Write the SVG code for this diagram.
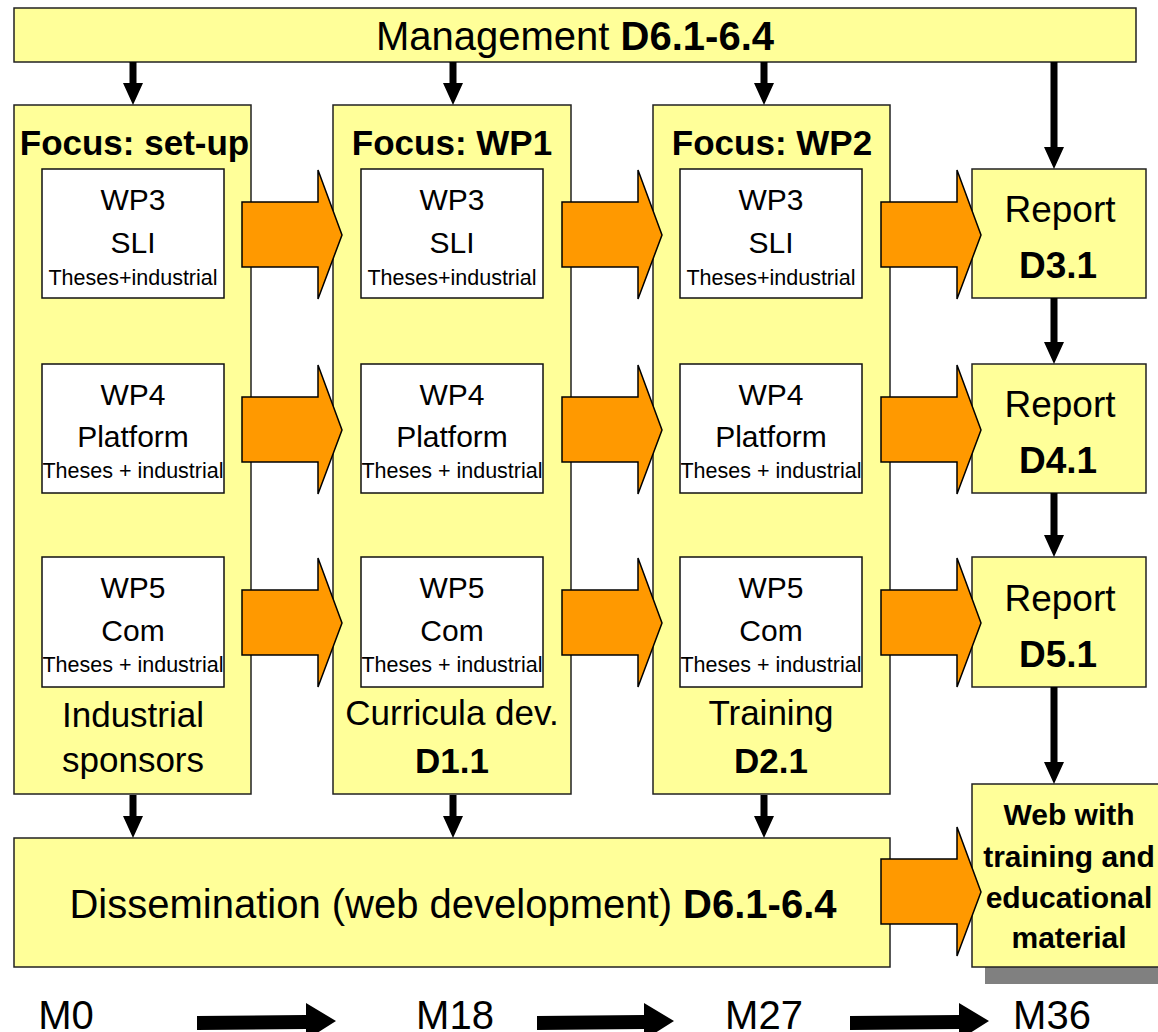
<svg xmlns="http://www.w3.org/2000/svg" width="1158" height="1032" viewBox="0 0 1158 1032">
<style>
.y{fill:#FFFF99;stroke:#222;stroke-width:1.5}
.w{fill:#FFFFFF;stroke:#111;stroke-width:1.5}
.o{fill:#FF9900;stroke:#000;stroke-width:1.5;stroke-linejoin:miter}
.k{fill:#000}
text{font-family:"Liberation Sans",Arial,sans-serif;fill:#000;text-anchor:middle}
.b{font-weight:bold}
.t30{font-size:30px}
.t21{font-size:21.5px}
.t35{font-size:35px}
.t37{font-size:37px}
.t40{font-size:40px}
</style>
<defs>
<polygon id="orange" class="o" points="0,33 76,33 76,1 100,66 76,130 76,98 0,98"/>
<polygon id="down43" class="k" points="-3.5,0 3.5,0 3.5,21 10,21 0,43 -10,21 -3.5,21"/>
</defs>

<g id="management">
<rect class="y" x="14" y="8" width="1122" height="54"/>
<text class="t40" x="575" y="50">Management <tspan class="b">D6.1-6.4</tspan></text>
</g>

<g id="col-setup">
<rect class="y" x="14" y="105" width="237" height="689"/>
<text class="b t35" x="134.5" y="155">Focus: set-up</text>
<text class="t35" x="133" y="727">Industrial</text>
<text class="t35" x="133" y="772">sponsors</text>
</g>
<g id="col-wp1">
<rect class="y" x="333" y="105" width="238" height="689"/>
<text class="b t35" x="452" y="155">Focus: WP1</text>
<text class="t35" x="452" y="725">Curricula dev.</text>
<text class="b t35" x="452" y="773">D1.1</text>
</g>
<g id="col-wp2">
<rect class="y" x="653" y="105" width="237" height="689"/>
<text class="b t35" x="772" y="155">Focus: WP2</text>
<text class="t35" x="771" y="725">Training</text>
<text class="b t35" x="771" y="773">D2.1</text>
</g>

<g id="c1-wp3"><rect class="w" x="42" y="169" width="182" height="129"/>
<text class="t30" x="133" y="210">WP3</text><text class="t30" x="133" y="253">SLI</text><text class="t21" x="133" y="285">Theses+industrial</text></g>
<g id="c1-wp4"><rect class="w" x="42" y="364" width="182" height="129"/>
<text class="t30" x="133" y="405">WP4</text><text class="t30" x="133" y="447">Platform</text><text class="t21" x="133" y="478">Theses + industrial</text></g>
<g id="c1-wp5"><rect class="w" x="42" y="557" width="182" height="130"/>
<text class="t30" x="133" y="598">WP5</text><text class="t30" x="133" y="641">Com</text><text class="t21" x="133" y="672">Theses + industrial</text></g>

<g id="c2-wp3"><rect class="w" x="361" y="169" width="182" height="129"/>
<text class="t30" x="452" y="210">WP3</text><text class="t30" x="452" y="253">SLI</text><text class="t21" x="452" y="285">Theses+industrial</text></g>
<g id="c2-wp4"><rect class="w" x="361" y="364" width="182" height="129"/>
<text class="t30" x="452" y="405">WP4</text><text class="t30" x="452" y="447">Platform</text><text class="t21" x="452" y="478">Theses + industrial</text></g>
<g id="c2-wp5"><rect class="w" x="361" y="557" width="182" height="130"/>
<text class="t30" x="452" y="598">WP5</text><text class="t30" x="452" y="641">Com</text><text class="t21" x="452" y="672">Theses + industrial</text></g>

<g id="c3-wp3"><rect class="w" x="680" y="169" width="182" height="129"/>
<text class="t30" x="771" y="210">WP3</text><text class="t30" x="771" y="253">SLI</text><text class="t21" x="771" y="285">Theses+industrial</text></g>
<g id="c3-wp4"><rect class="w" x="680" y="364" width="182" height="129"/>
<text class="t30" x="771" y="405">WP4</text><text class="t30" x="771" y="447">Platform</text><text class="t21" x="771" y="478">Theses + industrial</text></g>
<g id="c3-wp5"><rect class="w" x="680" y="557" width="182" height="130"/>
<text class="t30" x="771" y="598">WP5</text><text class="t30" x="771" y="641">Com</text><text class="t21" x="771" y="672">Theses + industrial</text></g>

<g id="report-d31"><rect class="y" x="972" y="169" width="174" height="129"/>
<text class="t37" x="1060" y="222">Report</text><text class="b t37" x="1058" y="278">D3.1</text></g>
<g id="report-d41"><rect class="y" x="972" y="364" width="174" height="129"/>
<text class="t37" x="1060" y="417">Report</text><text class="b t37" x="1058" y="473">D4.1</text></g>
<g id="report-d51"><rect class="y" x="972" y="557" width="174" height="130"/>
<text class="t37" x="1060" y="611">Report</text><text class="b t37" x="1058" y="667">D5.1</text></g>

<g id="dissemination">
<rect class="y" x="14" y="838" width="876" height="129"/>
<text class="t40" x="453" y="918">Dissemination (web development) <tspan class="b">D6.1-6.4</tspan></text>
</g>

<g id="web">
<rect x="985" y="797" width="200" height="187" fill="#808080"/>
<rect class="y" x="972" y="784" width="194" height="183"/>
<text class="b t30" x="1069" y="825">Web with</text>
<text class="b t30" x="1069" y="867">training and</text>
<text class="b t30" x="1069" y="908">educational</text>
<text class="b t30" x="1069" y="948">material</text>
</g>

<g id="connectors">
<use href="#orange" x="242" y="169"/>
<use href="#orange" x="242" y="364"/>
<use href="#orange" x="242" y="557"/>
<use href="#orange" x="562" y="169"/>
<use href="#orange" x="562" y="364"/>
<use href="#orange" x="562" y="557"/>
<use href="#orange" x="881" y="169"/>
<use href="#orange" x="881" y="364"/>
<use href="#orange" x="881" y="557"/>
<use href="#orange" x="881" y="826"/>

<use href="#down43" x="133" y="62"/>
<use href="#down43" x="453" y="62"/>
<use href="#down43" x="764" y="62"/>
<polygon class="k" points="1050.5,62 1057.5,62 1057.5,147 1064,147 1054,169 1044,147 1050.5,147"/>
<use href="#down43" x="133" y="795"/>
<use href="#down43" x="453" y="795"/>
<use href="#down43" x="764" y="795"/>
<polygon class="k" points="1050.5,298 1057.5,298 1057.5,342 1064,342 1054,364 1044,342 1050.5,342"/>
<polygon class="k" points="1050.5,493 1057.5,493 1057.5,535 1064,535 1054,557 1044,535 1050.5,535"/>
<polygon class="k" points="1050.5,687 1057.5,687 1057.5,762 1064,762 1054,784 1044,762 1050.5,762"/>

<polygon class="k" points="197,1016 306,1015 306,1003 336,1021 306,1040 306,1029 197,1030"/>
<polygon class="k" points="537,1016 644,1015 644,1003 674,1021 644,1040 644,1029 537,1030"/>
<polygon class="k" points="850,1016 959,1015 959,1003 989,1021 959,1040 959,1029 850,1030"/>
</g>

<g id="timeline-labels">
<text class="t40" x="66" y="1029">M0</text>
<text class="t40" x="455" y="1029">M18</text>
<text class="t40" x="764" y="1029">M27</text>
<text class="t40" x="1052" y="1029">M36</text>
</g>
</svg>
